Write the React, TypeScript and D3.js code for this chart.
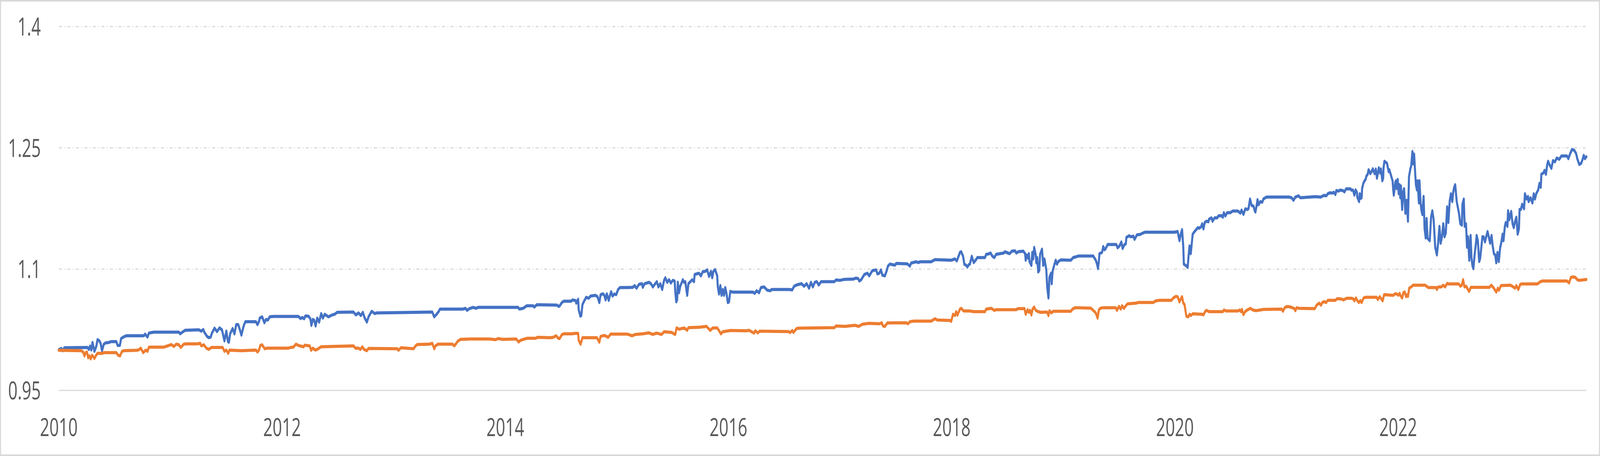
import { useMemo } from "react";
import * as d3 from "d3";

// the chart is laid out on the reference's 6202 x 1168 canvas and fitted to the window
const WIDTH = 6202;
const HEIGHT = 1168;
const MARGIN = { top: 68, right: 53, bottom: 168, left: 228 };

// tick labels
const yTicks = [0.95, 1.1, 1.25, 1.4];
const xTicks = [2010, 2012, 2014, 2016, 2018, 2020, 2022];

// [decimal year, value]
const blueSeries: [number, number][] = [
  [2010.0, 1.0002], [2010.022, 1.0019], [2010.034, 0.9991], [2010.05, 1.0028], [2010.258, 1.0031],
  [2010.269, 1.0007], [2010.28, 1.0048], [2010.291, 0.9999], [2010.302, 1.0093], [2010.319, 0.9983],
  [2010.336, 1.0048], [2010.347, 1.0128], [2010.364, 1.0112], [2010.375, 1.008], [2010.387, 0.9991],
  [2010.403, 1.0072], [2010.42, 1.0088], [2010.448, 1.0093], [2010.471, 1.0104], [2010.515, 1.0104],
  [2010.527, 1.0056], [2010.547, 1.0056], [2010.558, 1.0141], [2010.583, 1.0163], [2010.605, 1.0176],
  [2010.762, 1.0176], [2010.773, 1.0196], [2010.795, 1.016], [2010.807, 1.0209], [2010.851, 1.0221],
  [2011.076, 1.0221], [2011.087, 1.02], [2011.104, 1.0217], [2011.132, 1.0244], [2011.255, 1.0249],
  [2011.277, 1.0233], [2011.294, 1.0254], [2011.305, 1.0217], [2011.328, 1.0168], [2011.344, 1.0152],
  [2011.361, 1.016], [2011.372, 1.0209], [2011.395, 1.027], [2011.417, 1.0228], [2011.44, 1.0273],
  [2011.462, 1.0249], [2011.484, 1.0112], [2011.501, 1.0233], [2011.515, 1.0104], [2011.524, 1.0096],
  [2011.535, 1.02], [2011.557, 1.0265], [2011.574, 1.02], [2011.589, 1.0313], [2011.608, 1.0313],
  [2011.619, 1.0265], [2011.636, 1.0184], [2011.656, 1.0297], [2011.671, 1.035], [2011.766, 1.035],
  [2011.78, 1.0313], [2011.794, 1.0354], [2011.8, 1.0394], [2011.822, 1.041], [2011.842, 1.0337],
  [2011.856, 1.0378], [2011.873, 1.037], [2011.889, 1.041], [2011.923, 1.0415], [2012.147, 1.0415],
  [2012.164, 1.0389], [2012.181, 1.0402], [2012.198, 1.0386], [2012.209, 1.0421], [2012.237, 1.0418],
  [2012.254, 1.0386], [2012.263, 1.0305], [2012.276, 1.0378], [2012.287, 1.037], [2012.301, 1.0297],
  [2012.315, 1.0394], [2012.332, 1.0345], [2012.351, 1.045], [2012.366, 1.0394], [2012.382, 1.0442],
  [2012.416, 1.041], [2012.45, 1.0434], [2012.472, 1.0442], [2012.494, 1.0466], [2012.64, 1.0469],
  [2012.662, 1.0434], [2012.685, 1.0458], [2012.707, 1.0426], [2012.724, 1.0466], [2012.741, 1.0394],
  [2012.76, 1.0345], [2012.775, 1.041], [2012.803, 1.0479], [2012.831, 1.045], [2012.847, 1.0458],
  [2013.189, 1.0466], [2013.346, 1.0469], [2013.363, 1.041], [2013.38, 1.0434], [2013.403, 1.0474],
  [2013.415, 1.0506], [2013.622, 1.0506], [2013.644, 1.0515], [2013.658, 1.049], [2013.678, 1.0511],
  [2013.712, 1.0527], [2013.74, 1.0515], [2013.756, 1.0527], [2014.115, 1.0527], [2014.126, 1.0506],
  [2014.16, 1.0515], [2014.193, 1.0547], [2014.249, 1.0547], [2014.26, 1.0531], [2014.283, 1.056],
  [2014.462, 1.0555], [2014.479, 1.0539], [2014.49, 1.055], [2014.507, 1.0587], [2014.524, 1.0603],
  [2014.591, 1.0603], [2014.602, 1.0619], [2014.63, 1.0611], [2014.636, 1.0579], [2014.653, 1.0627],
  [2014.658, 1.0498], [2014.673, 1.0418], [2014.681, 1.0426], [2014.692, 1.0563], [2014.709, 1.0611],
  [2014.725, 1.0651], [2014.748, 1.064], [2014.765, 1.0667], [2014.809, 1.0676], [2014.826, 1.0659],
  [2014.843, 1.0587], [2014.854, 1.0684], [2014.877, 1.0695], [2014.888, 1.0676], [2014.899, 1.0619],
  [2014.91, 1.0695], [2014.927, 1.0614], [2014.938, 1.0676], [2014.949, 1.0721], [2014.961, 1.0667],
  [2014.977, 1.0692], [2014.994, 1.0684], [2015.011, 1.0748], [2015.028, 1.0772], [2015.092, 1.0772],
  [2015.142, 1.0775], [2015.159, 1.0796], [2015.176, 1.0764], [2015.198, 1.0812], [2015.226, 1.082],
  [2015.232, 1.0775], [2015.249, 1.082], [2015.288, 1.0837], [2015.305, 1.082], [2015.322, 1.078],
  [2015.344, 1.082], [2015.358, 1.0845], [2015.372, 1.078], [2015.389, 1.082], [2015.406, 1.0748],
  [2015.423, 1.0861], [2015.434, 1.0893], [2015.451, 1.0837], [2015.467, 1.0869], [2015.484, 1.0829],
  [2015.501, 1.0861], [2015.518, 1.0853], [2015.523, 1.0724], [2015.532, 1.0595], [2015.54, 1.0619],
  [2015.546, 1.0837], [2015.557, 1.0708], [2015.568, 1.0788], [2015.591, 1.0869], [2015.602, 1.0837],
  [2015.613, 1.0845], [2015.63, 1.0676], [2015.641, 1.082], [2015.658, 1.0845], [2015.675, 1.0869],
  [2015.691, 1.0845], [2015.697, 1.0933], [2015.714, 1.0941], [2015.736, 1.0949], [2015.753, 1.0917],
  [2015.77, 1.0969], [2015.792, 1.0973], [2015.809, 1.099], [2015.826, 1.0909], [2015.843, 1.0973],
  [2015.854, 1.0893], [2015.865, 1.0973], [2015.88, 1.0994], [2015.899, 1.0917], [2015.904, 1.0788],
  [2015.915, 1.0692], [2015.927, 1.0796], [2015.938, 1.0676], [2015.949, 1.0748], [2015.96, 1.0676],
  [2015.971, 1.0772], [2015.983, 1.0692], [2015.994, 1.0587], [2016.005, 1.0595], [2016.016, 1.0724],
  [2016.039, 1.0716], [2016.218, 1.0716], [2016.235, 1.07], [2016.252, 1.0732], [2016.274, 1.0708],
  [2016.291, 1.0772], [2016.319, 1.078], [2016.347, 1.074], [2016.375, 1.0732], [2016.386, 1.0748],
  [2016.543, 1.0748], [2016.571, 1.0743], [2016.588, 1.0788], [2016.61, 1.0804], [2016.632, 1.0812],
  [2016.655, 1.082], [2016.677, 1.0788], [2016.7, 1.082], [2016.722, 1.0764], [2016.739, 1.0837],
  [2016.756, 1.078], [2016.773, 1.0837], [2016.791, 1.0845], [2016.808, 1.0804], [2016.83, 1.0845],
  [2016.948, 1.0845], [2016.964, 1.0866], [2016.998, 1.0861], [2017.032, 1.0872], [2017.121, 1.0877],
  [2017.138, 1.0888], [2017.161, 1.0885], [2017.172, 1.0853], [2017.189, 1.0869], [2017.217, 1.0933],
  [2017.245, 1.0949], [2017.261, 1.0917], [2017.289, 1.0981], [2017.323, 1.099], [2017.334, 1.0941],
  [2017.351, 1.0949], [2017.366, 1.099], [2017.379, 1.0925], [2017.401, 1.0917], [2017.418, 1.0981],
  [2017.429, 1.1038], [2017.446, 1.1062], [2017.491, 1.1049], [2017.502, 1.107], [2017.603, 1.1065],
  [2017.625, 1.1038], [2017.637, 1.1075], [2017.681, 1.1091], [2017.704, 1.1081], [2017.715, 1.1091],
  [2017.816, 1.1091], [2017.85, 1.1118], [2017.995, 1.111], [2018.029, 1.1126], [2018.046, 1.1102],
  [2018.057, 1.1143], [2018.074, 1.1207], [2018.085, 1.1215], [2018.102, 1.1159], [2018.113, 1.1062],
  [2018.13, 1.1046], [2018.141, 1.1027], [2018.152, 1.1054], [2018.163, 1.1062], [2018.18, 1.1159],
  [2018.197, 1.1081], [2018.214, 1.111], [2018.23, 1.1143], [2018.298, 1.1143], [2018.309, 1.1183],
  [2018.331, 1.1188], [2018.348, 1.1199], [2018.365, 1.1159], [2018.382, 1.1143], [2018.398, 1.1183],
  [2018.432, 1.1191], [2018.466, 1.1199], [2018.477, 1.1215], [2018.518, 1.1191], [2018.54, 1.1223],
  [2018.568, 1.1226], [2018.579, 1.1199], [2018.596, 1.1215], [2018.641, 1.1223], [2018.658, 1.1191],
  [2018.663, 1.111], [2018.674, 1.1175], [2018.686, 1.1134], [2018.691, 1.1191], [2018.697, 1.1094],
  [2018.714, 1.1046], [2018.722, 1.1207], [2018.73, 1.1126], [2018.739, 1.1268], [2018.753, 1.1175],
  [2018.758, 1.1078], [2018.766, 1.1143], [2018.775, 1.0965], [2018.784, 1.0981], [2018.792, 1.1183],
  [2018.809, 1.1247], [2018.82, 1.1046], [2018.831, 1.1126], [2018.843, 1.103], [2018.848, 1.0981],
  [2018.856, 1.0772], [2018.867, 1.0643], [2018.876, 1.0901], [2018.89, 1.0949], [2018.896, 1.082],
  [2018.904, 1.0973], [2018.921, 1.1062], [2018.932, 1.111], [2018.943, 1.1062], [2018.955, 1.1094],
  [2018.977, 1.1114], [2019.067, 1.111], [2019.089, 1.1143], [2019.111, 1.1151], [2019.134, 1.1162],
  [2019.268, 1.1162], [2019.291, 1.111], [2019.302, 1.1062], [2019.311, 1.1006], [2019.319, 1.111],
  [2019.324, 1.1191], [2019.347, 1.1207], [2019.358, 1.1279], [2019.369, 1.1239], [2019.38, 1.1255],
  [2019.397, 1.1304], [2019.475, 1.1304], [2019.487, 1.1263], [2019.503, 1.1287], [2019.52, 1.1336],
  [2019.531, 1.1255], [2019.548, 1.1304], [2019.56, 1.1312], [2019.565, 1.1392], [2019.576, 1.14],
  [2019.588, 1.1413], [2019.604, 1.14], [2019.627, 1.1408], [2019.638, 1.1368], [2019.66, 1.1424],
  [2019.688, 1.1429], [2019.716, 1.1448], [2019.733, 1.1457], [2019.996, 1.1457], [2020.024, 1.1465],
  [2020.041, 1.1352], [2020.052, 1.1432], [2020.064, 1.1489], [2020.075, 1.1271], [2020.08, 1.1062],
  [2020.097, 1.1046], [2020.114, 1.1022], [2020.122, 1.1159], [2020.131, 1.1287], [2020.142, 1.1191],
  [2020.159, 1.1432], [2020.176, 1.1465], [2020.205, 1.1513], [2020.216, 1.1505], [2020.233, 1.1521],
  [2020.244, 1.1561], [2020.256, 1.1497], [2020.267, 1.1577], [2020.284, 1.1593], [2020.3, 1.1585],
  [2020.306, 1.1618], [2020.328, 1.1634], [2020.337, 1.1593], [2020.356, 1.1634], [2020.379, 1.1634],
  [2020.39, 1.1658], [2020.418, 1.1661], [2020.429, 1.1642], [2020.438, 1.1698], [2020.452, 1.1658],
  [2020.468, 1.1698], [2020.496, 1.1698], [2020.519, 1.1719], [2020.564, 1.1719], [2020.586, 1.1693],
  [2020.597, 1.173], [2020.614, 1.1677], [2020.631, 1.1746], [2020.648, 1.1738], [2020.659, 1.1746],
  [2020.673, 1.1867], [2020.687, 1.1787], [2020.704, 1.1779], [2020.715, 1.1722], [2020.721, 1.1706],
  [2020.732, 1.1787], [2020.74, 1.1859], [2020.749, 1.1795], [2020.765, 1.1835], [2020.782, 1.1827],
  [2020.793, 1.1867], [2020.81, 1.1883], [2020.821, 1.1891], [2021.023, 1.1891], [2021.045, 1.1883],
  [2021.062, 1.1851], [2021.079, 1.1891], [2021.107, 1.1907], [2021.124, 1.1883], [2021.257, 1.1896],
  [2021.307, 1.1891], [2021.334, 1.1912], [2021.357, 1.1907], [2021.369, 1.1932], [2021.388, 1.1944],
  [2021.411, 1.194], [2021.423, 1.1951], [2021.438, 1.1923], [2021.446, 1.1972], [2021.465, 1.1964],
  [2021.48, 1.1977], [2021.504, 1.1972], [2021.519, 1.1956], [2021.534, 1.1993], [2021.573, 1.1993],
  [2021.581, 1.1977], [2021.596, 1.1977], [2021.608, 1.1915], [2021.619, 1.198], [2021.631, 1.1948],
  [2021.634, 1.1891], [2021.65, 1.1835], [2021.656, 1.1932], [2021.665, 1.1875], [2021.673, 1.1883],
  [2021.677, 1.1996], [2021.688, 1.206], [2021.696, 1.2085], [2021.708, 1.2109], [2021.715, 1.2149],
  [2021.727, 1.2173], [2021.735, 1.2229], [2021.742, 1.2213], [2021.75, 1.2181], [2021.762, 1.2205],
  [2021.773, 1.2241], [2021.789, 1.2181], [2021.8, 1.2238], [2021.81, 1.2125], [2021.819, 1.2189],
  [2021.827, 1.2254], [2021.839, 1.2189], [2021.846, 1.2238], [2021.858, 1.2093], [2021.866, 1.2125],
  [2021.869, 1.2254], [2021.877, 1.2334], [2021.889, 1.2321], [2021.9, 1.231], [2021.915, 1.2205],
  [2021.921, 1.2229], [2021.933, 1.2173], [2021.95, 1.2093], [2021.956, 1.198], [2021.961, 1.1915],
  [2021.967, 1.198], [2021.975, 1.2077], [2021.982, 1.2093], [2021.987, 1.1996], [2021.996, 1.2109],
  [2022.005, 1.1932], [2022.013, 1.2044], [2022.019, 1.1883], [2022.025, 1.2028], [2022.036, 1.1738],
  [2022.044, 1.1948], [2022.053, 1.1996], [2022.065, 1.169], [2022.076, 1.1851], [2022.088, 1.1593],
  [2022.097, 1.2141], [2022.109, 1.2238], [2022.117, 1.2278], [2022.128, 1.2455], [2022.134, 1.2302],
  [2022.143, 1.2423], [2022.151, 1.2221], [2022.159, 1.2044], [2022.168, 1.198], [2022.174, 1.2093],
  [2022.186, 1.1819], [2022.191, 1.2093], [2022.201, 1.1819], [2022.209, 1.1722], [2022.217, 1.1674],
  [2022.228, 1.1899], [2022.237, 1.1497], [2022.247, 1.1384], [2022.255, 1.1626], [2022.263, 1.1384],
  [2022.272, 1.1368], [2022.283, 1.1352], [2022.295, 1.1642], [2022.306, 1.1722], [2022.318, 1.161],
  [2022.332, 1.1271], [2022.347, 1.1175], [2022.358, 1.132], [2022.37, 1.1529], [2022.381, 1.132],
  [2022.393, 1.14], [2022.404, 1.1561], [2022.416, 1.14], [2022.427, 1.1448], [2022.439, 1.1771],
  [2022.45, 1.1577], [2022.462, 1.1843], [2022.473, 1.1932], [2022.485, 1.1835], [2022.493, 1.1948],
  [2022.502, 1.2012], [2022.511, 1.2044], [2022.525, 1.1835], [2022.536, 1.1754], [2022.545, 1.169],
  [2022.557, 1.1561], [2022.571, 1.1545], [2022.576, 1.1803], [2022.588, 1.1867], [2022.596, 1.1529],
  [2022.608, 1.1561], [2022.617, 1.1271], [2022.626, 1.14], [2022.637, 1.111], [2022.649, 1.1416],
  [2022.657, 1.1143], [2022.665, 1.1046], [2022.674, 1.1006], [2022.686, 1.1191], [2022.697, 1.132],
  [2022.703, 1.1416], [2022.714, 1.1352], [2022.726, 1.1094], [2022.734, 1.1126], [2022.743, 1.1239],
  [2022.755, 1.14], [2022.766, 1.14], [2022.778, 1.1336], [2022.789, 1.14], [2022.801, 1.1465],
  [2022.812, 1.14], [2022.824, 1.132], [2022.837, 1.1416], [2022.847, 1.1287], [2022.858, 1.1191],
  [2022.87, 1.1175], [2022.879, 1.1078], [2022.89, 1.1207], [2022.902, 1.1094], [2022.913, 1.1255],
  [2022.925, 1.1336], [2022.936, 1.1432], [2022.944, 1.1352], [2022.956, 1.1529], [2022.964, 1.1577],
  [2022.979, 1.1529], [2022.985, 1.1722], [2022.996, 1.161], [2023.013, 1.1714], [2023.025, 1.1561],
  [2023.036, 1.1513], [2023.048, 1.1593], [2023.059, 1.1642], [2023.071, 1.1432], [2023.082, 1.1497],
  [2023.088, 1.1738], [2023.1, 1.1738], [2023.111, 1.1803], [2023.128, 1.1746], [2023.136, 1.1932],
  [2023.151, 1.1867], [2023.163, 1.1899], [2023.169, 1.1835], [2023.186, 1.1883], [2023.203, 1.1819],
  [2023.215, 1.1932], [2023.226, 1.1867], [2023.237, 1.1932], [2023.255, 1.198], [2023.266, 1.206],
  [2023.278, 1.2012], [2023.283, 1.2173], [2023.301, 1.2189], [2023.312, 1.2221], [2023.324, 1.2173],
  [2023.335, 1.2286], [2023.343, 1.2334], [2023.358, 1.2286], [2023.373, 1.2246], [2023.387, 1.2342],
  [2023.404, 1.2326], [2023.421, 1.2374], [2023.444, 1.2358], [2023.462, 1.2399], [2023.513, 1.2399],
  [2023.525, 1.2366], [2023.542, 1.2431], [2023.557, 1.2479], [2023.577, 1.2471], [2023.594, 1.2431],
  [2023.605, 1.2366], [2023.623, 1.2294], [2023.64, 1.231], [2023.651, 1.235], [2023.663, 1.2407],
  [2023.674, 1.2366], [2023.686, 1.239],
];

const orangeSeries: [number, number][] = [
  [2010.0, 0.9996], [2010.202, 0.9991], [2010.218, 0.9975], [2010.23, 0.9927], [2010.241, 0.9967],
  [2010.252, 0.9975], [2010.263, 0.9903], [2010.274, 0.9927], [2010.286, 0.989], [2010.297, 0.9935],
  [2010.308, 0.9919], [2010.319, 0.9895], [2010.336, 0.9938], [2010.347, 0.9959], [2010.392, 0.9959],
  [2010.403, 0.9967], [2010.515, 0.9967], [2010.532, 0.9935], [2010.549, 0.9927], [2010.566, 0.9983],
  [2010.583, 0.9991], [2010.695, 0.9996], [2010.717, 1.0002], [2010.734, 1.0023], [2010.756, 0.9967],
  [2010.779, 0.9999], [2010.795, 0.9983], [2010.807, 1.0035], [2010.941, 1.0035], [2010.975, 1.0051],
  [2011.008, 1.0067], [2011.031, 1.0044], [2011.053, 1.0072], [2011.076, 1.0064], [2011.092, 1.0031],
  [2011.12, 1.0072], [2011.143, 1.0076], [2011.244, 1.0076], [2011.266, 1.0083], [2011.277, 1.0051],
  [2011.3, 1.0064], [2011.322, 1.0023], [2011.344, 1.0007], [2011.367, 1.0031], [2011.468, 1.0031],
  [2011.484, 0.9983], [2011.501, 0.9999], [2011.518, 0.9959], [2011.529, 0.9999], [2011.557, 0.9996],
  [2011.636, 0.9991], [2011.766, 0.9999], [2011.78, 0.9975], [2011.794, 0.9999], [2011.805, 1.0056],
  [2011.822, 1.0064], [2011.845, 1.0015], [2011.867, 1.0023], [2012.058, 1.0023], [2012.074, 1.0031],
  [2012.102, 1.0035], [2012.125, 1.0072], [2012.147, 1.0056], [2012.17, 1.0048], [2012.192, 1.0039],
  [2012.203, 1.0059], [2012.248, 1.0051], [2012.261, 0.9996], [2012.276, 1.0023], [2012.298, 0.9999],
  [2012.315, 1.0007], [2012.349, 1.0039], [2012.472, 1.0044], [2012.64, 1.0051], [2012.657, 1.0023],
  [2012.685, 1.0023], [2012.702, 1.0007], [2012.719, 1.0039], [2012.735, 1.0007], [2012.76, 0.9991],
  [2012.775, 1.0019], [2013.032, 1.0015], [2013.043, 0.9996], [2013.066, 1.0028], [2013.178, 1.0015],
  [2013.195, 1.0048], [2013.211, 1.0067], [2013.323, 1.0072], [2013.346, 1.0083], [2013.364, 1.0015],
  [2013.375, 1.0051], [2013.398, 1.0072], [2013.527, 1.0072], [2013.544, 1.0051], [2013.56, 1.008],
  [2013.577, 1.0112], [2013.6, 1.0131], [2013.689, 1.0136], [2013.857, 1.0136], [2013.913, 1.0128],
  [2013.936, 1.0141], [2013.98, 1.0131], [2014.098, 1.0136], [2014.12, 1.0099], [2014.137, 1.012],
  [2014.193, 1.0144], [2014.272, 1.0144], [2014.288, 1.0157], [2014.406, 1.0152], [2014.429, 1.0157],
  [2014.456, 1.0176], [2014.473, 1.0147], [2014.487, 1.0141], [2014.507, 1.0189], [2014.524, 1.02],
  [2014.597, 1.02], [2014.619, 1.0205], [2014.653, 1.0205], [2014.658, 1.012], [2014.675, 1.0072],
  [2014.692, 1.0152], [2014.821, 1.0152], [2014.843, 1.0096], [2014.854, 1.0168], [2014.888, 1.018],
  [2014.922, 1.0157], [2014.944, 1.0196], [2015.095, 1.0196], [2015.137, 1.0176], [2015.165, 1.0192],
  [2015.232, 1.02], [2015.288, 1.0212], [2015.322, 1.0192], [2015.355, 1.0209], [2015.4, 1.0192],
  [2015.423, 1.0225], [2015.49, 1.0217], [2015.523, 1.0192], [2015.535, 1.0273], [2015.557, 1.0257],
  [2015.602, 1.0273], [2015.63, 1.0244], [2015.641, 1.0276], [2015.736, 1.0281], [2015.803, 1.0292],
  [2015.837, 1.0241], [2015.859, 1.0273], [2015.899, 1.0273], [2015.915, 1.0241], [2015.932, 1.02],
  [2015.949, 1.0225], [2016.016, 1.0241], [2016.162, 1.0238], [2016.184, 1.0244], [2016.207, 1.0225],
  [2016.229, 1.0209], [2016.24, 1.0238], [2016.263, 1.0212], [2016.28, 1.0233], [2016.532, 1.0228],
  [2016.554, 1.0217], [2016.571, 1.0241], [2016.582, 1.0217], [2016.61, 1.0265], [2016.632, 1.027],
  [2016.948, 1.0276], [2016.964, 1.0297], [2017.043, 1.0292], [2017.133, 1.0305], [2017.166, 1.0292],
  [2017.2, 1.0318], [2017.256, 1.0329], [2017.357, 1.0324], [2017.373, 1.0337], [2017.385, 1.0297],
  [2017.401, 1.0292], [2017.424, 1.0334], [2017.592, 1.0337], [2017.609, 1.0324], [2017.625, 1.035],
  [2017.659, 1.0357], [2017.816, 1.0357], [2017.85, 1.0386], [2017.872, 1.037], [2017.984, 1.0366],
  [2017.995, 1.0353], [2018.012, 1.0442], [2018.029, 1.0426], [2018.04, 1.0474], [2018.051, 1.0431],
  [2018.074, 1.0506], [2018.085, 1.0515], [2018.107, 1.0482], [2018.163, 1.0482], [2018.197, 1.0474],
  [2018.298, 1.0474], [2018.309, 1.0506], [2018.354, 1.0515], [2018.382, 1.049], [2018.398, 1.0498],
  [2018.574, 1.0498], [2018.596, 1.0511], [2018.652, 1.0511], [2018.663, 1.0442], [2018.68, 1.0498],
  [2018.691, 1.0466], [2018.702, 1.049], [2018.714, 1.0434], [2018.725, 1.0506], [2018.739, 1.0531],
  [2018.753, 1.049], [2018.775, 1.0474], [2018.798, 1.0466], [2018.854, 1.0469], [2018.867, 1.0426],
  [2018.876, 1.0486], [2018.893, 1.0458], [2018.91, 1.0479], [2019.067, 1.0479], [2019.083, 1.0506],
  [2019.106, 1.0523], [2019.246, 1.0518], [2019.268, 1.049], [2019.291, 1.0458], [2019.307, 1.0394],
  [2019.319, 1.0498], [2019.335, 1.0518], [2019.358, 1.0523], [2019.47, 1.0523], [2019.481, 1.049],
  [2019.498, 1.0539], [2019.515, 1.0506], [2019.526, 1.0547], [2019.543, 1.0515], [2019.56, 1.0547],
  [2019.576, 1.0571], [2019.649, 1.0579], [2019.672, 1.0587], [2019.806, 1.0587], [2019.828, 1.0608],
  [2019.862, 1.0614], [2019.968, 1.0614], [2019.985, 1.0643], [2020.008, 1.0663], [2020.024, 1.0659],
  [2020.041, 1.0595], [2020.052, 1.063], [2020.064, 1.0659], [2020.075, 1.0579], [2020.086, 1.0563],
  [2020.097, 1.0466], [2020.103, 1.0418], [2020.12, 1.041], [2020.131, 1.0442], [2020.142, 1.0426],
  [2020.159, 1.0447], [2020.244, 1.0442], [2020.256, 1.0434], [2020.272, 1.0479], [2020.284, 1.049],
  [2020.306, 1.0474], [2020.429, 1.0474], [2020.44, 1.0495], [2020.457, 1.0482], [2020.564, 1.0482],
  [2020.58, 1.0495], [2020.592, 1.0474], [2020.6, 1.0502], [2020.614, 1.0437], [2020.631, 1.0479],
  [2020.653, 1.0498], [2020.676, 1.0515], [2020.698, 1.0495], [2020.726, 1.0486], [2020.793, 1.0502],
  [2020.956, 1.0506], [2020.967, 1.0479], [2020.984, 1.0523], [2021.001, 1.0537], [2021.029, 1.0534],
  [2021.051, 1.0523], [2021.068, 1.0515], [2021.079, 1.0486], [2021.09, 1.0523], [2021.113, 1.0515],
  [2021.253, 1.0511], [2021.27, 1.0555], [2021.292, 1.0579], [2021.309, 1.0555], [2021.32, 1.0587],
  [2021.337, 1.0598], [2021.354, 1.0587], [2021.37, 1.0614], [2021.438, 1.0614], [2021.454, 1.0635],
  [2021.494, 1.063], [2021.51, 1.0619], [2021.538, 1.064], [2021.583, 1.064], [2021.6, 1.063],
  [2021.608, 1.0608], [2021.622, 1.0643], [2021.634, 1.0611], [2021.648, 1.0587], [2021.662, 1.0611],
  [2021.673, 1.0587], [2021.69, 1.0643], [2021.706, 1.0651], [2021.807, 1.0651], [2021.818, 1.0624],
  [2021.835, 1.0659], [2021.852, 1.0627], [2021.861, 1.0608], [2021.874, 1.0684], [2021.956, 1.0676],
  [2021.973, 1.0695], [2021.99, 1.0692], [2022.002, 1.0676], [2022.013, 1.07], [2022.025, 1.0663],
  [2022.036, 1.0643], [2022.048, 1.0711], [2022.059, 1.0716], [2022.071, 1.0659], [2022.082, 1.0684],
  [2022.088, 1.0663], [2022.099, 1.0764], [2022.117, 1.078], [2022.134, 1.0801], [2022.243, 1.0801],
  [2022.255, 1.0788], [2022.272, 1.0772], [2022.341, 1.0772], [2022.347, 1.0748], [2022.358, 1.078],
  [2022.387, 1.078], [2022.404, 1.0801], [2022.421, 1.078], [2022.439, 1.0824], [2022.45, 1.0817],
  [2022.542, 1.0817], [2022.559, 1.0788], [2022.571, 1.0804], [2022.582, 1.0869], [2022.594, 1.078],
  [2022.611, 1.0788], [2022.622, 1.0756], [2022.636, 1.0724], [2022.651, 1.0775], [2022.818, 1.0775],
  [2022.835, 1.0801], [2022.858, 1.0764], [2022.879, 1.0716], [2022.893, 1.0764], [2022.904, 1.074],
  [2022.921, 1.0796], [2023.008, 1.0801], [2023.031, 1.078], [2023.048, 1.0764], [2023.059, 1.0796],
  [2023.077, 1.0748], [2023.094, 1.0812], [2023.111, 1.0817], [2023.249, 1.0817], [2023.266, 1.0837],
  [2023.289, 1.0853], [2023.513, 1.0853], [2023.531, 1.0829], [2023.548, 1.0898], [2023.565, 1.0904],
  [2023.588, 1.0898], [2023.605, 1.0869], [2023.623, 1.0861], [2023.686, 1.0872],
];

const SERIES = [
  { name: "blue", color: "#4472C4", data: blueSeries },
  { name: "orange", color: "#ED7D31", data: orangeSeries },
];

const FONT = "'Open Sans', 'Noto Sans', sans-serif";
const GRID = "#D9D9D9";
const LABEL = "#595959";

export default function App() {
  const boundsWidth = WIDTH - MARGIN.left - MARGIN.right;
  const boundsHeight = HEIGHT - MARGIN.top - MARGIN.bottom;

  // the browser may give a smaller window than asked; stretch the canvas to fill it
  const viewW = typeof window !== "undefined" && window.innerWidth ? window.innerWidth : WIDTH;
  const viewH = typeof window !== "undefined" && window.innerHeight ? window.innerHeight : HEIGHT;

  const xScale = useMemo(() => {
    const ext = d3.extent([...blueSeries, ...orangeSeries], (d) => d[0]) as [number, number];
    return d3.scaleLinear().domain(ext).range([0, boundsWidth]);
  }, [boundsWidth]);

  const yScale = useMemo(
    () => d3.scaleLinear().domain([0.95, 1.4]).range([boundsHeight, 0]),
    [boundsHeight]
  );

  const lineBuilder = d3
    .line<[number, number]>()
    .x((d) => xScale(d[0]))
    .y((d) => yScale(d[1]));

  return (
    <svg
      width={viewW}
      height={viewH}
      viewBox={`0 0 ${WIDTH} ${HEIGHT}`}
      preserveAspectRatio="none"
      style={{ position: "absolute", left: 0, top: 0, display: "block", background: "#fff" }}
    >
      <rect x={2} y={2} width={WIDTH - 4} height={HEIGHT - 4} fill="#fff" stroke={GRID} strokeWidth={4} />
      <g transform={`translate(${MARGIN.left},${MARGIN.top})`}>
        {/* grid */}
        {yTicks.map((t, i) => (
          <line
            key={t}
            x1={0}
            x2={boundsWidth}
            y1={yScale(t)}
            y2={yScale(t)}
            stroke={GRID}
            strokeWidth={3}
            strokeDasharray={i === 0 ? undefined : "12 9 3 9"}
          />
        ))}
        {/* y labels */}
        {yTicks.map((t) => (
          <text
            key={t}
            x={-70}
            y={yScale(t) + 23}
            textAnchor="end"
            fontFamily={FONT}
            fontSize={64}
            fill={LABEL}
          >
            {String(t)}
          </text>
        ))}
        {/* x labels */}
        {xTicks.map((t) => (
          <text
            key={t}
            x={xScale(t)}
            y={boundsHeight + 117}
            textAnchor="middle"
            fontFamily={FONT}
            fontSize={64}
            fill={LABEL}
          >
            {t}
          </text>
        ))}
        {SERIES.map((s) => (
          <path
            key={s.name}
            d={lineBuilder(s.data) ?? ""}
            fill="none"
            stroke={s.color}
            strokeWidth={8}
            strokeLinejoin="round"
            strokeLinecap="round"
          />
        ))}
      </g>
    </svg>
  );
}
